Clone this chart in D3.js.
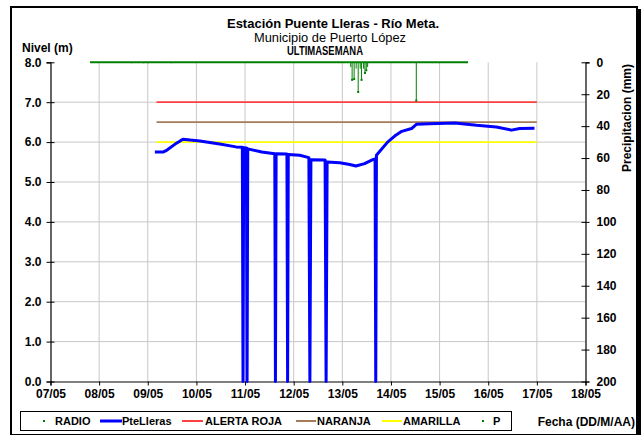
<!DOCTYPE html>
<html><head><meta charset="utf-8">
<script src="https://cdn.jsdelivr.net/npm/d3@7"></script>
<style>
html,body{margin:0;padding:0;background:#fff;}
svg{display:block;font-family:"Liberation Sans",Arial,sans-serif;}
</style></head>
<body><svg id="c" width="644" height="435"></svg>
<script>
// ---------- DATA ----------
const titleLines = ["Estación Puente Lleras - Río Meta.", "Municipio de Puerto López", "ULTIMASEMANA"];
const xTickLabels = ["07/05","08/05","09/05","10/05","11/05","12/05","13/05","14/05","15/05","16/05","17/05","18/05"];
const yLeftTicks = [0,1,2,3,4,5,6,7,8];
const yRightTicks = [0,20,40,60,80,100,120,140,160,180,200];

// River level (m), PteLleras
const levelTimes = ["05-09 03:30","05-09 07:30","05-09 09:30","05-09 13:30","05-09 16:00","05-09 17:20","05-09 21:00",
 "05-10 01:40","05-10 11:30","05-10 19:30","05-10 22:40","05-10 23:00","05-10 23:20","05-11 00:40","05-11 01:00","05-11 01:20",
 "05-11 08:15","05-11 14:40","05-11 15:00","05-11 15:20","05-11 20:40","05-11 21:00","05-11 21:20",
 "05-12 03:00","05-12 07:30","05-12 08:00","05-12 08:30","05-12 15:30","05-12 16:00","05-12 16:30","05-12 22:45",
 "05-13 03:40","05-13 06:40","05-13 11:00","05-13 15:00","05-13 16:10","05-13 16:30","05-13 16:50","05-13 22:20",
 "05-14 01:50","05-14 05:20","05-14 10:10","05-14 12:40","05-14 19:00","05-15 07:30","05-15 18:15",
 "05-16 04:00","05-16 11:30","05-16 15:30","05-16 22:50"];
const levelValues = [5.75,5.75,5.80,5.95,6.03,6.07,6.05,
 6.03,5.95,5.88,5.87,0,5.86,5.85,0,5.83,
 5.75,5.71,0,5.71,5.70,0,5.69,
 5.67,5.61,0,5.56,5.55,0,5.50,5.48,
 5.44,5.40,5.46,5.56,5.58,0,5.67,6.00,
 6.15,6.27,6.34,6.45,6.46,6.48,6.42,
 6.38,6.30,6.34,6.35];

// Alert thresholds (m)
const thresholdNames = ["ALERTA ROJA","NARANJA","AMARILLA"];
const thresholdValues = [7.0, 6.5, 6.0];
const thresholdStart = "05-09 04:20";
const thresholdEnd = "05-17 00:00";

// Precipitation P (mm): record span and non-zero readings
const precipStart = "05-07 19:30";
const precipEnd = "05-15 14:00";
const precipTimes = ["05-08 16:00","05-08 22:00","05-09 00:00","05-09 11:40",
 "05-13 04:10","05-13 04:50","05-13 05:50","05-13 06:50","05-13 07:50","05-13 08:50","05-13 09:30",
 "05-13 10:30","05-13 11:10","05-13 11:50","05-13 12:30",
 "05-14 12:30","05-14 20:30","05-15 00:00","05-15 13:10"];
const precipValues = [0.6,0.6,0.6,0.6,
 3.0,11.0,10.5,4.0,18.6,4.0,11.0,
 4.0,6.7,5.0,3.0,
 24.0,0.5,0.5,0.5];

const legendNames = ["RADIO","PteLleras","ALERTA ROJA","NARANJA","AMARILLA","P"];

// ---------- STYLE ----------
const colors = {level:"#0000ff", red:"#ff4040", orange:"#a47c5c", yellow:"#ffff00", p:"#008000", grid:"#c8c8c8"};
const thrColors = [colors.red, colors.orange, colors.yellow];

const parse = d3.timeParse("%Y-%m-%d %H:%M");
const P = s => parse("2024-" + s);

const svg = d3.select("#c");
const L = 50.5, R = 585.5, T = 62.3, B = 381.5;

const x = d3.scaleTime().domain([P("05-07 00:00"), P("05-18 00:00")]).range([L, R]);
const yL = d3.scaleLinear().domain([0, 8]).range([B, T]);
const yR = d3.scaleLinear().domain([0, 200]).range([T, B]);

// frame
svg.append("rect").attr("x",11).attr("y",7).attr("width",626).attr("height",428)
  .attr("fill","#fff").attr("stroke","#000").attr("stroke-width",2);
svg.append("rect").attr("x",637).attr("y",9).attr("width",4).attr("height",426).attr("fill","#000");

// grid
const days = d3.timeDay.range(P("05-08 00:00"), P("05-18 00:00"));
svg.append("g").selectAll("line").data(days).join("line")
  .attr("x1",d=>x(d)).attr("x2",d=>x(d)).attr("y1",T).attr("y2",B)
  .attr("stroke",colors.grid).attr("stroke-width",1);
svg.append("g").selectAll("line").data(yLeftTicks.filter(v=>v>0&&v<8)).join("line")
  .attr("x1",L).attr("x2",R).attr("y1",d=>yL(d)).attr("y2",d=>yL(d))
  .attr("stroke",colors.grid).attr("stroke-width",1);

// axes
const tickDates = d3.timeDay.range(P("05-07 00:00"), P("05-18 00:01"));
const xAxis = d3.axisBottom(x).tickValues(tickDates).tickFormat((d,i)=>xTickLabels[i]).tickSize(4).tickPadding(4);
const gx = svg.append("g").attr("transform",`translate(0,${B})`).call(xAxis);
const yAxisL = d3.axisLeft(yL).tickValues(yLeftTicks).tickFormat(d3.format(".1f")).tickSize(4).tickPadding(5);
const gyl = svg.append("g").attr("transform",`translate(${L},0)`).call(yAxisL);
const yAxisR = d3.axisRight(yR).tickValues(yRightTicks).tickSize(4).tickPadding(7);
const gyr = svg.append("g").attr("transform",`translate(${R},0)`).call(yAxisR);
[gx,gyl,gyr].forEach(g=>{
  g.select(".domain").attr("stroke","#000").attr("stroke-width",1.2);
  g.selectAll(".tick line").attr("stroke","#000");
  g.selectAll("text").attr("font-size",12).attr("font-weight","bold").attr("fill","#000")
    .attr("font-family",'"Liberation Sans",Arial,sans-serif');
});
gyl.selectAll(".tick line").attr("x2",4).attr("x1",-4);
gyr.selectAll(".tick line").attr("x1",-4).attr("x2",4);

// thresholds
thresholdValues.forEach((v,i)=>{
  svg.append("line").attr("x1",x(P(thresholdStart))).attr("x2",x(P(thresholdEnd)))
    .attr("y1",yL(v)).attr("y2",yL(v)).attr("stroke",thrColors[i]).attr("stroke-width",1.8);
});

// precipitation
svg.append("line").attr("x1",x(P(precipStart))).attr("x2",x(P(precipEnd)))
  .attr("y1",yR(0)).attr("y2",yR(0)).attr("stroke",colors.p).attr("stroke-width",2);
const pData = precipTimes.map((t,i)=>({t:P(t),v:precipValues[i]}));
svg.append("g").selectAll("line").data(pData).join("line")
  .attr("x1",d=>x(d.t)).attr("x2",d=>x(d.t)).attr("y1",yR(0)).attr("y2",d=>yR(d.v))
  .attr("stroke",colors.p).attr("stroke-width",1);
svg.append("g").selectAll("rect").data(pData.filter(d=>d.v>=5)).join("rect")
  .attr("x",d=>x(d.t)-1).attr("y",d=>yR(d.v)-1).attr("width",2).attr("height",2).attr("fill",colors.p);

// level
const lData = levelTimes.map((t,i)=>({t:P(t),v:levelValues[i]}));
svg.append("path").datum(lData)
  .attr("d",d3.line().x(d=>x(d.t)).y(d=>yL(d.v)))
  .attr("fill","none").attr("stroke",colors.level).attr("stroke-width",3).attr("stroke-linejoin","round");

// titles
svg.append("text").attr("x",333).attr("y",28).attr("text-anchor","middle").attr("font-size",13).attr("font-weight","bold")
  .attr("textLength",212).attr("lengthAdjust","spacingAndGlyphs").text(titleLines[0]);
svg.append("text").attr("x",330).attr("y",42).attr("text-anchor","middle").attr("font-size",12.5)
  .attr("textLength",152).attr("lengthAdjust","spacingAndGlyphs").text(titleLines[1]);
svg.append("text").attr("x",325).attr("y",55).attr("text-anchor","middle").attr("font-size",12).attr("font-weight","bold")
  .attr("textLength",76).attr("lengthAdjust","spacingAndGlyphs").text(titleLines[2]);
svg.append("text").attr("x",22).attr("y",52).attr("font-size",12).attr("font-weight","bold").text("Nivel (m)");
svg.append("text").attr("transform",`translate(631,118) rotate(-90)`).attr("text-anchor","middle")
  .attr("font-size",12).attr("font-weight","bold").text("Precipitacion (mm)");
svg.append("text").attr("x",635).attr("y",426).attr("text-anchor","end").attr("font-size",12).attr("font-weight","bold")
  .text("Fecha (DD/M/AA)");

// legend
svg.append("rect").attr("x",20.5).attr("y",411.5).attr("width",491).attr("height",19)
  .attr("fill","#fff").attr("stroke","#000").attr("stroke-width",1);
const legY = 421;
const legItems = [
  {name:legendNames[0], type:"dot", color:colors.p, sx:44, tx:55},
  {name:legendNames[1], type:"line", color:colors.level, sx:100, ex:122, tx:122, w:3},
  {name:legendNames[2], type:"line", color:colors.red, sx:182, ex:203, tx:205, w:2},
  {name:legendNames[3], type:"line", color:colors.orange, sx:296, ex:316, tx:317, w:2},
  {name:legendNames[4], type:"line", color:colors.yellow, sx:382, ex:402, tx:403, w:2},
  {name:legendNames[5], type:"dot", color:colors.p, sx:483, tx:493}
];
legItems.forEach(it=>{
  if(it.type==="dot"){
    svg.append("rect").attr("x",it.sx-1).attr("y",legY-1).attr("width",2).attr("height",2).attr("fill",it.color);
  } else {
    svg.append("line").attr("x1",it.sx).attr("x2",it.ex).attr("y1",legY).attr("y2",legY)
      .attr("stroke",it.color).attr("stroke-width",it.w);
  }
  svg.append("text").attr("x",it.tx).attr("y",legY+4).attr("font-size",11).attr("font-weight","bold").text(it.name);
});
</script></body></html>
